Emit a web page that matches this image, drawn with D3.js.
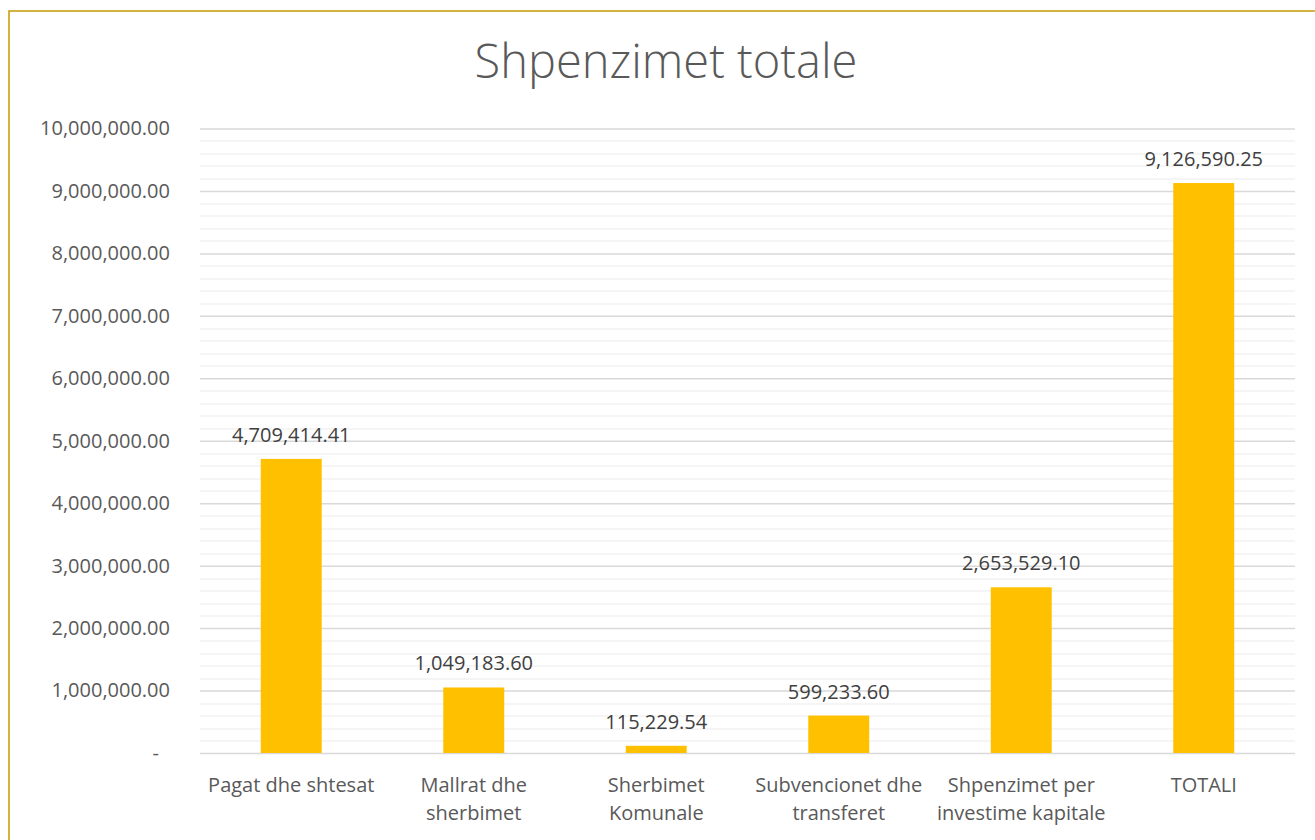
<!DOCTYPE html>
<html>
<head>
<meta charset="utf-8">
<script src="https://cdn.jsdelivr.net/npm/d3@7"></script>
<style>
  body { margin: 0; background: #fff; }
  svg { display: block; font-family: "Open Sans", sans-serif; }
</style>
</head>
<body>
<div id="wrapper"></div>
<script>
const categories = [
    ["Pagat dhe shtesat"],
    ["Mallrat dhe", "sherbimet"],
    ["Sherbimet", "Komunale"],
    ["Subvencionet dhe", "transferet"],
    ["Shpenzimet per", "investime kapitale"],
    ["TOTALI"],
]
const values = [4709414.41, 1049183.60, 115229.54, 599233.60, 2653529.10, 9126590.25]
const yTicks = [0, 1e6, 2e6, 3e6, 4e6, 5e6, 6e6, 7e6, 8e6, 9e6, 1e7]
const title = "Shpenzimet totale"

const dataset = categories.map((c, i) => ({ key: i, lines: c, value: values[i] }))

let dimensions = {
    width: 1315,
    height: 840,
    margin: { top: 128.5, right: 20, bottom: 87, left: 200 },
}
dimensions.boundedWidth = dimensions.width - dimensions.margin.left - dimensions.margin.right
dimensions.boundedHeight = dimensions.height - dimensions.margin.top - dimensions.margin.bottom

const wrapper = d3.select("#wrapper")
    .append("svg")
    .attr("width", dimensions.width)
    .attr("height", dimensions.height)

// chart border (right and bottom edges fall outside the picture)
wrapper.append("rect")
    .attr("x", 9)
    .attr("y", 11)
    .attr("width", 1320)
    .attr("height", 840)
    .attr("fill", "none")
    .attr("stroke", "#C49A00")
    .attr("stroke-width", 1.5)

wrapper.append("text")
    .attr("x", 666)
    .attr("y", 78)
    .attr("text-anchor", "middle")
    .attr("fill", "#595959")
    .style("font-size", "47px")
    .style("font-weight", 300)
    .text(title)

const bounds = wrapper.append("g")
    .attr("transform", `translate(${dimensions.margin.left},${dimensions.margin.top})`)

const xScale = d3.scaleBand()
    .domain(dataset.map(d => d.key))
    .range([0, dimensions.boundedWidth])
    .paddingInner(0.666)
    .paddingOuter(0.333)

const yScale = d3.scaleLinear()
    .domain([0, 1e7])
    .range([dimensions.boundedHeight, 0])

// minor gridlines
const minor = d3.range(0, 1e7 + 1, 2e5).filter(v => v % 1e6 !== 0)
bounds.append("g").selectAll("line")
    .data(minor)
    .join("line")
    .attr("x1", 0)
    .attr("x2", dimensions.boundedWidth)
    .attr("y1", d => Math.round(yScale(d)) + 0.5)
    .attr("y2", d => Math.round(yScale(d)) + 0.5)
    .attr("stroke", "#F2F2F2")
    .attr("stroke-width", 1.5)

// major gridlines + labels
const yAxisGenerator = d3.axisLeft(yScale)
    .tickValues(yTicks)
    .tickSize(-dimensions.boundedWidth)
    .tickPadding(30)
    .tickFormat(d => d === 0 ? "-" : d3.format(",.2f")(d))

const yAxis = bounds.append("g").call(yAxisGenerator)
yAxis.select(".domain").remove()
yAxis.selectAll(".tick line")
    .attr("stroke", "#D9D9D9")
    .attr("stroke-width", 1.5)
yAxis.selectAll(".tick text")
    .attr("fill", "#595959")
    .style("font-size", "20px")
    .style("font-family", "'Open Sans', sans-serif")
yAxis.selectAll(".tick text").filter(d => d === 0).attr("dx", "-11")

bounds.selectAll(".bar")
    .data(dataset)
    .join("rect")
    .attr("class", "bar")
    .attr("x", d => xScale(d.key))
    .attr("width", xScale.bandwidth())
    .attr("y", d => yScale(d.value))
    .attr("height", d => dimensions.boundedHeight - yScale(d.value))
    .attr("fill", "#FFC000")

bounds.selectAll(".value")
    .data(dataset)
    .join("text")
    .attr("class", "value")
    .attr("x", d => xScale(d.key) + xScale.bandwidth() / 2)
    .attr("y", d => yScale(d.value) - 17)
    .attr("text-anchor", "middle")
    .attr("fill", "#404040")
    .style("font-size", "20px")
    .text(d => d3.format(",.2f")(d.value))

// category labels
const catLabels = bounds.selectAll(".cat")
    .data(dataset)
    .join("text")
    .attr("class", "cat")
    .attr("text-anchor", "middle")
    .attr("fill", "#595959")
    .style("font-size", "20px")
    .attr("transform", d => `translate(${xScale(d.key) + xScale.bandwidth() / 2},${dimensions.boundedHeight + 39})`)

catLabels.selectAll("tspan")
    .data(d => d.lines)
    .join("tspan")
    .attr("x", 0)
    .attr("dy", (d, i) => i === 0 ? 0 : 28)
    .text(d => d)
</script>
</body>
</html>
